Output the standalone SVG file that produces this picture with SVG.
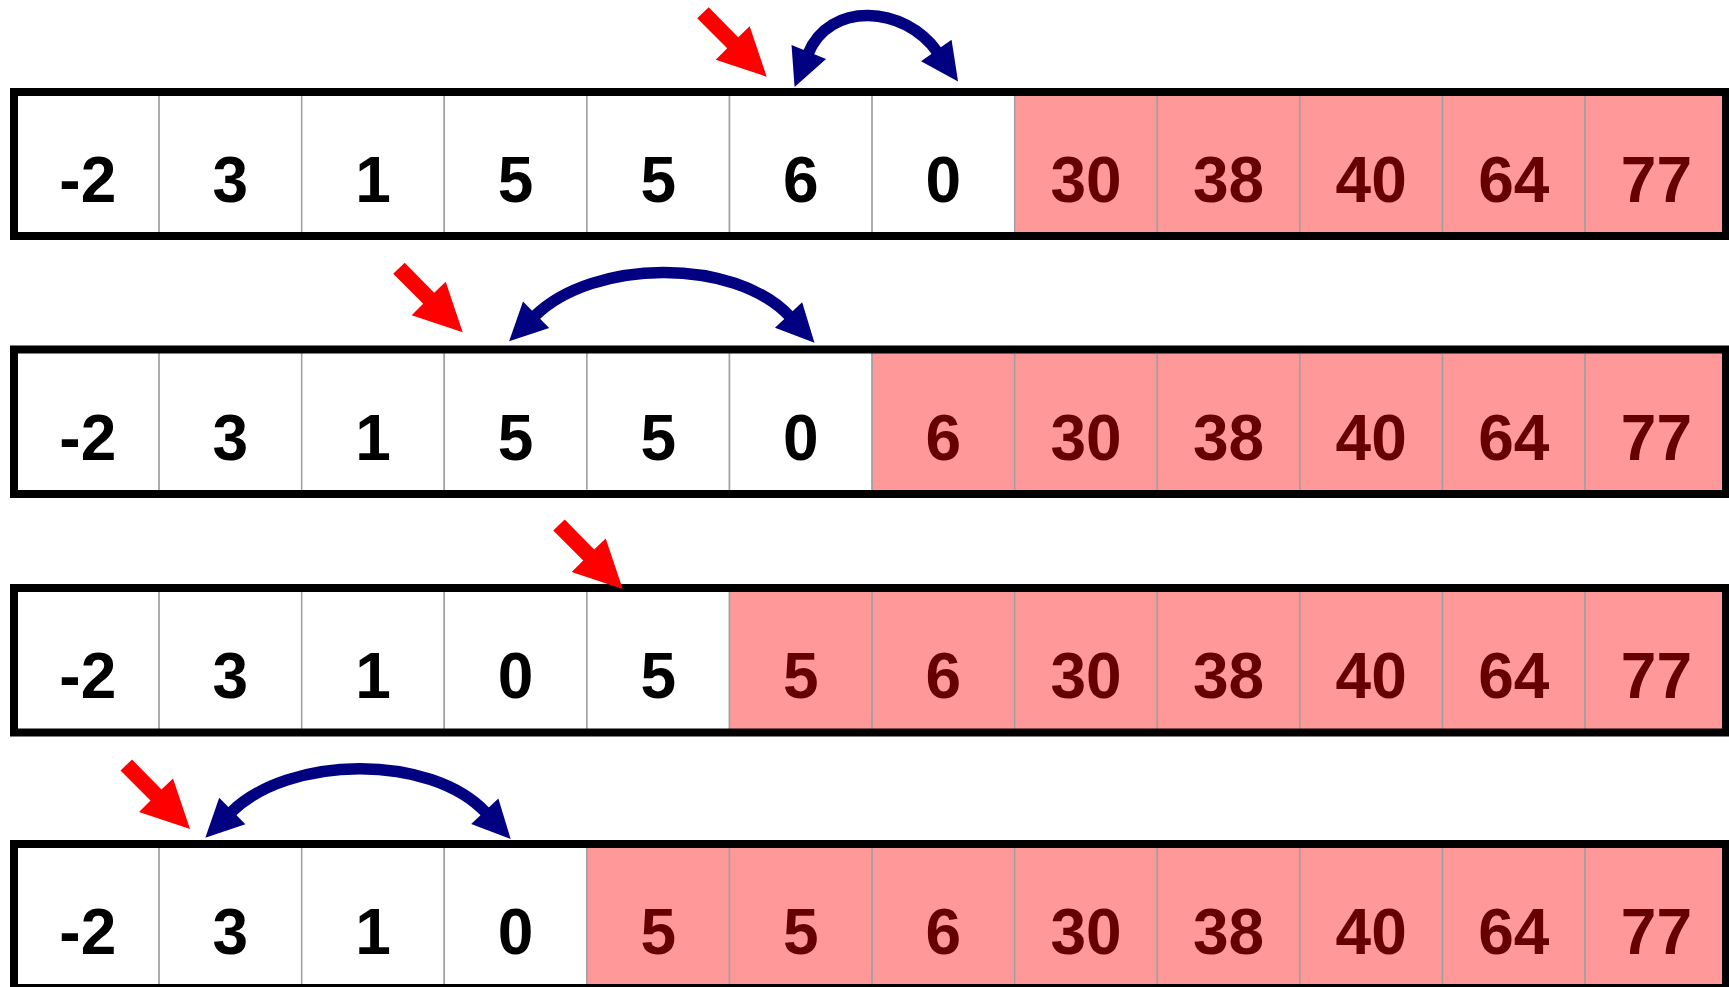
<svg xmlns="http://www.w3.org/2000/svg" xmlns:xlink="http://www.w3.org/1999/xlink" width="1729" height="987" viewBox="0 0 1729 987">
<style>
.c{fill:#ffffff;stroke:#a0a0a0;stroke-width:1.5}
.p{fill:#ff9999;stroke:#a0a0a0;stroke-width:1.5}
.f{fill:none;stroke:#000000;stroke-width:8}
.t{font-family:"Liberation Sans",Arial,sans-serif;font-weight:bold;font-size:64px;text-anchor:middle;fill:#000000}
.tp{fill:#660000}
.red{fill:#ff0000}
.sw{fill:none;stroke:#000080;stroke-width:11.5;marker-start:url(#hd);marker-end:url(#hd)}
</style>
<defs>
<marker id="hd" markerUnits="userSpaceOnUse" markerWidth="40" markerHeight="40" viewBox="-2 -18 38 36" refX="1" refY="0" orient="auto-start-reverse" overflow="visible">
<path d="M-1,-17.7 L35,0 L-1,17.7 Z" fill="#000080"/>
</marker>
<path id="ptr" d="M0,0 L-17,-50.5 L-28.5,-39.5 L-58,-69.5 L-69.5,-58.5 L-39.5,-28.5 L-51,-17 Z"/>
</defs>

<g id="row1" transform="translate(0,92)">
<rect class="c" x="16.5" y="0" width="142.6" height="144"/>
<rect class="c" x="159.1" y="0" width="142.6" height="144"/>
<rect class="c" x="301.7" y="0" width="142.6" height="144"/>
<rect class="c" x="444.3" y="0" width="142.6" height="144"/>
<rect class="c" x="586.9" y="0" width="142.6" height="144"/>
<rect class="c" x="729.5" y="0" width="142.6" height="144"/>
<rect class="c" x="872.1" y="0" width="142.6" height="144"/>
<rect class="p" x="1014.7" y="0" width="142.6" height="144"/>
<rect class="p" x="1157.3" y="0" width="142.6" height="144"/>
<rect class="p" x="1299.9" y="0" width="142.6" height="144"/>
<rect class="p" x="1442.5" y="0" width="142.6" height="144"/>
<rect class="p" x="1585.1" y="0" width="142.6" height="144"/>
<rect class="f" x="14" y="0" width="1712" height="144"/>
<text class="t" x="87.8" y="110">-2</text>
<text class="t" x="230.4" y="110">3</text>
<text class="t" x="373" y="110">1</text>
<text class="t" x="515.6" y="110">5</text>
<text class="t" x="658.2" y="110">5</text>
<text class="t" x="800.8" y="110">6</text>
<text class="t" x="943.4" y="110">0</text>
<text class="t tp" x="1086" y="110">30</text>
<text class="t tp" x="1228.6" y="110">38</text>
<text class="t tp" x="1371.2" y="110">40</text>
<text class="t tp" x="1513.8" y="110">64</text>
<text class="t tp" x="1656.4" y="110">77</text>
</g>

<g id="row2" transform="translate(0,349.5)">
<rect class="c" x="16.5" y="0" width="142.6" height="144.5"/>
<rect class="c" x="159.1" y="0" width="142.6" height="144.5"/>
<rect class="c" x="301.7" y="0" width="142.6" height="144.5"/>
<rect class="c" x="444.3" y="0" width="142.6" height="144.5"/>
<rect class="c" x="586.9" y="0" width="142.6" height="144.5"/>
<rect class="c" x="729.5" y="0" width="142.6" height="144.5"/>
<rect class="p" x="872.1" y="0" width="142.6" height="144.5"/>
<rect class="p" x="1014.7" y="0" width="142.6" height="144.5"/>
<rect class="p" x="1157.3" y="0" width="142.6" height="144.5"/>
<rect class="p" x="1299.9" y="0" width="142.6" height="144.5"/>
<rect class="p" x="1442.5" y="0" width="142.6" height="144.5"/>
<rect class="p" x="1585.1" y="0" width="142.6" height="144.5"/>
<rect class="f" x="14" y="0" width="1712" height="144.5"/>
<text class="t" x="87.8" y="110.5">-2</text>
<text class="t" x="230.4" y="110.5">3</text>
<text class="t" x="373" y="110.5">1</text>
<text class="t" x="515.6" y="110.5">5</text>
<text class="t" x="658.2" y="110.5">5</text>
<text class="t" x="800.8" y="110.5">0</text>
<text class="t tp" x="943.4" y="110.5">6</text>
<text class="t tp" x="1086" y="110.5">30</text>
<text class="t tp" x="1228.6" y="110.5">38</text>
<text class="t tp" x="1371.2" y="110.5">40</text>
<text class="t tp" x="1513.8" y="110.5">64</text>
<text class="t tp" x="1656.4" y="110.5">77</text>
</g>

<g id="row3" transform="translate(0,588)">
<rect class="c" x="16.5" y="0" width="142.6" height="144.5"/>
<rect class="c" x="159.1" y="0" width="142.6" height="144.5"/>
<rect class="c" x="301.7" y="0" width="142.6" height="144.5"/>
<rect class="c" x="444.3" y="0" width="142.6" height="144.5"/>
<rect class="c" x="586.9" y="0" width="142.6" height="144.5"/>
<rect class="p" x="729.5" y="0" width="142.6" height="144.5"/>
<rect class="p" x="872.1" y="0" width="142.6" height="144.5"/>
<rect class="p" x="1014.7" y="0" width="142.6" height="144.5"/>
<rect class="p" x="1157.3" y="0" width="142.6" height="144.5"/>
<rect class="p" x="1299.9" y="0" width="142.6" height="144.5"/>
<rect class="p" x="1442.5" y="0" width="142.6" height="144.5"/>
<rect class="p" x="1585.1" y="0" width="142.6" height="144.5"/>
<rect class="f" x="14" y="0" width="1712" height="144.5"/>
<text class="t" x="87.8" y="110">-2</text>
<text class="t" x="230.4" y="110">3</text>
<text class="t" x="373" y="110">1</text>
<text class="t" x="515.6" y="110">0</text>
<text class="t" x="658.2" y="110">5</text>
<text class="t tp" x="800.8" y="110">5</text>
<text class="t tp" x="943.4" y="110">6</text>
<text class="t tp" x="1086" y="110">30</text>
<text class="t tp" x="1228.6" y="110">38</text>
<text class="t tp" x="1371.2" y="110">40</text>
<text class="t tp" x="1513.8" y="110">64</text>
<text class="t tp" x="1656.4" y="110">77</text>
</g>

<g id="row4" transform="translate(0,844)">
<rect class="c" x="16.5" y="0" width="142.6" height="144"/>
<rect class="c" x="159.1" y="0" width="142.6" height="144"/>
<rect class="c" x="301.7" y="0" width="142.6" height="144"/>
<rect class="c" x="444.3" y="0" width="142.6" height="144"/>
<rect class="p" x="586.9" y="0" width="142.6" height="144"/>
<rect class="p" x="729.5" y="0" width="142.6" height="144"/>
<rect class="p" x="872.1" y="0" width="142.6" height="144"/>
<rect class="p" x="1014.7" y="0" width="142.6" height="144"/>
<rect class="p" x="1157.3" y="0" width="142.6" height="144"/>
<rect class="p" x="1299.9" y="0" width="142.6" height="144"/>
<rect class="p" x="1442.5" y="0" width="142.6" height="144"/>
<rect class="p" x="1585.1" y="0" width="142.6" height="144"/>
<rect class="f" x="14" y="0" width="1712" height="144"/>
<text class="t" x="87.8" y="109.5">-2</text>
<text class="t" x="230.4" y="109.5">3</text>
<text class="t" x="373" y="109.5">1</text>
<text class="t" x="515.6" y="109.5">0</text>
<text class="t tp" x="658.2" y="109.5">5</text>
<text class="t tp" x="800.8" y="109.5">5</text>
<text class="t tp" x="943.4" y="109.5">6</text>
<text class="t tp" x="1086" y="109.5">30</text>
<text class="t tp" x="1228.6" y="109.5">38</text>
<text class="t tp" x="1371.2" y="109.5">40</text>
<text class="t tp" x="1513.8" y="109.5">64</text>
<text class="t tp" x="1656.4" y="109.5">77</text>
</g>

<g id="connectors">
<use xlink:href="#ptr" href="#ptr" class="red" transform="translate(766.7,76.7)"/>
<use xlink:href="#ptr" href="#ptr" class="red" transform="translate(462.7,332.3)"/>
<use xlink:href="#ptr" href="#ptr" class="red" transform="translate(622.7,589)"/>
<use xlink:href="#ptr" href="#ptr" class="red" transform="translate(190,829)"/>
<path class="sw" d="M808,53.9 C829.5,0.8 904.6,5.3 937.5,52.2"/>
<path class="sw" d="M534.6,316.2 C592.8,258.7 734,256.9 790,316.6"/>
<path class="sw" d="M230.8,812.5 C289,755 430.2,753.2 486.2,812.9"/>
</g>
</svg>
